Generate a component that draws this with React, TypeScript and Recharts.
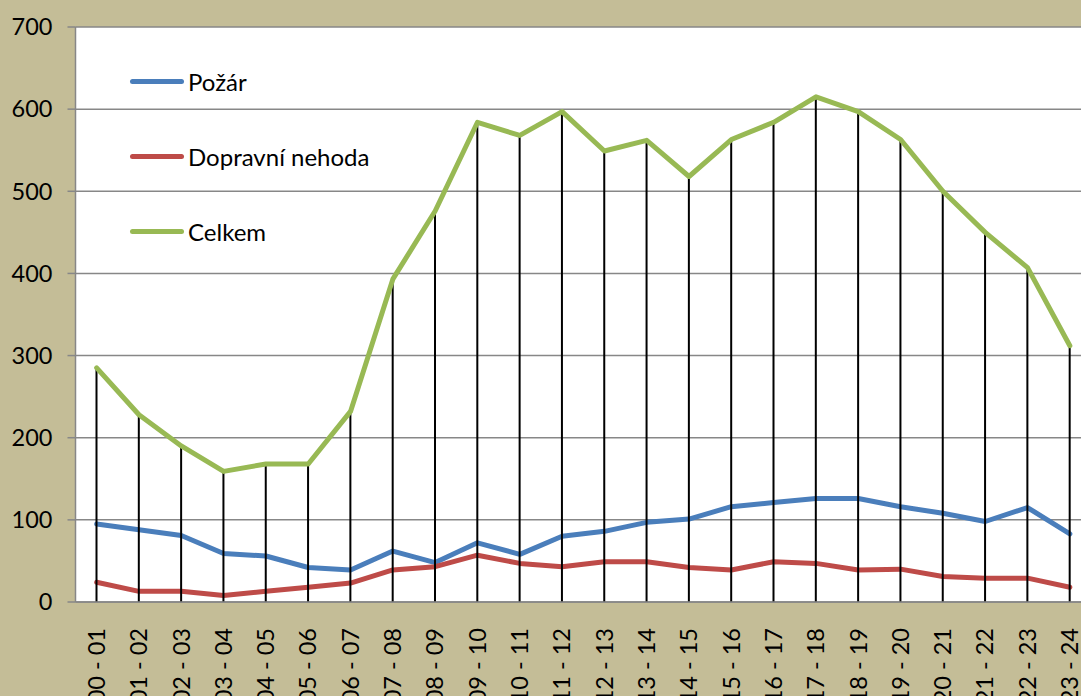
import React from "react";
import { ComposedChart, Line, Bar, XAxis, YAxis, CartesianGrid, Legend } from "recharts";

const categories = [
  "00 - 01", "01 - 02", "02 - 03", "03 - 04", "04 - 05", "05 - 06", "06 - 07", "07 - 08",
  "08 - 09", "09 - 10", "10 - 11", "11 - 12", "12 - 13", "13 - 14", "14 - 15", "15 - 16",
  "16 - 17", "17 - 18", "18 - 19", "19 - 20", "20 - 21", "21 - 22", "22 - 23", "23 - 24",
];
const pozar = [95, 88, 81, 59, 56, 42, 39, 62, 48, 72, 58, 80, 86, 97, 101, 116, 121, 126, 126, 116, 108, 98, 115, 83];
const dopravni = [24, 13, 13, 8, 13, 18, 23, 39, 43, 57, 47, 43, 49, 49, 42, 39, 49, 47, 39, 40, 31, 29, 29, 18];
const celkem = [285, 228, 190, 159, 168, 168, 232, 393, 476, 584, 568, 597, 549, 562, 518, 563, 584, 615, 597, 563, 500, 450, 407, 312];
const yTicks = [0, 100, 200, 300, 400, 500, 600, 700];
const seriesNames = ["Požár", "Dopravní nehoda", "Celkem"];
const seriesColors = ["#4A7EBB", "#BE4B48", "#98B954"];

const data = categories.map((c, i) => ({
  cat: c,
  pozar: pozar[i],
  dopravni: dopravni[i],
  celkem: celkem[i],
}));

const FONT = "Lato, 'Open Sans', sans-serif";

const XTick = (props: any) => {
  const { x, y, payload } = props;
  return (
    <g transform={`translate(${x},${y + 18})`}>
      <text
        transform="rotate(-90)"
        textAnchor="end"
        dy="0.35em"
        fontSize={23.5}
        fontFamily={FONT}
        fill="#000"
      >
        {payload.value}
      </text>
    </g>
  );
};

const LegendContent = () => (
  <div style={{ position: "relative", width: 400, height: 220 }}>
    {seriesNames.map((n, i) => (
      <div
        key={n}
        style={{
          position: "absolute",
          left: 0,
          top: i * 75,
          height: 30,
          display: "flex",
          alignItems: "center",
          fontFamily: FONT,
          fontSize: 24,
          color: "#000",
          whiteSpace: "nowrap",
        }}
      >
        <span
          style={{
            display: "inline-block",
            width: 54,
            height: 5,
            borderRadius: 3,
            background: seriesColors[i],
            marginRight: 4,
          }}
        />
        <span>{n}</span>
      </div>
    ))}
  </div>
);

export default function App() {
  return (
    <div
      style={{
        position: "fixed",
        left: 0,
        top: 0,
        width: 1081,
        height: 696,
        overflow: "hidden",
        background: "#C4BD97",
      }}
    >
      <ComposedChart
        width={1100}
        height={696}
        data={data}
        margin={{ top: 27, right: 9, bottom: 0, left: 0 }}
        style={{ fontFamily: FONT }}
      >
        <CartesianGrid vertical={false} stroke="#878787" strokeWidth={1.5} fill="#FFFFFF" />
        <XAxis
          dataKey="cat"
          interval={0}
          height={94}
          tickLine={false}
          axisLine={{ stroke: "#878787", strokeWidth: 1.5 }}
          tick={<XTick />}
        />
        <YAxis
          width={75.5}
          domain={[0, 700]}
          ticks={yTicks}
          interval={0}
          tickSize={8}
          tickMargin={15}
          axisLine={{ stroke: "#878787", strokeWidth: 1.5 }}
          tickLine={{ stroke: "#878787", strokeWidth: 1.5 }}
          tick={{ fill: "#000", fontSize: 23.5, fontFamily: FONT }}
        />
        <Legend
          layout="vertical"
          align="center"
          verticalAlign="middle"
          wrapperStyle={{ left: 130, top: 66, width: 400, height: 220 }}
          content={<LegendContent />}
        />
        <Line
          type="linear"
          dataKey="pozar"
          name="Požár"
          stroke={seriesColors[0]}
          strokeWidth={5}
          strokeLinejoin="round"
          strokeLinecap="round"
          dot={false}
          activeDot={false}
          isAnimationActive={false}
        />
        <Line
          type="linear"
          dataKey="dopravni"
          name="Dopravní nehoda"
          stroke={seriesColors[1]}
          strokeWidth={5}
          strokeLinejoin="round"
          strokeLinecap="round"
          dot={false}
          activeDot={false}
          isAnimationActive={false}
        />
        <Bar
          dataKey="celkem"
          barSize={2}
          fill="#000000"
          legendType="none"
          isAnimationActive={false}
          zIndex={450}
        />
        <Line
          type="linear"
          dataKey="celkem"
          name="Celkem"
          stroke={seriesColors[2]}
          strokeWidth={5}
          strokeLinejoin="round"
          strokeLinecap="round"
          dot={false}
          activeDot={false}
          isAnimationActive={false}
          zIndex={500}
        />
      </ComposedChart>
    </div>
  );
}
